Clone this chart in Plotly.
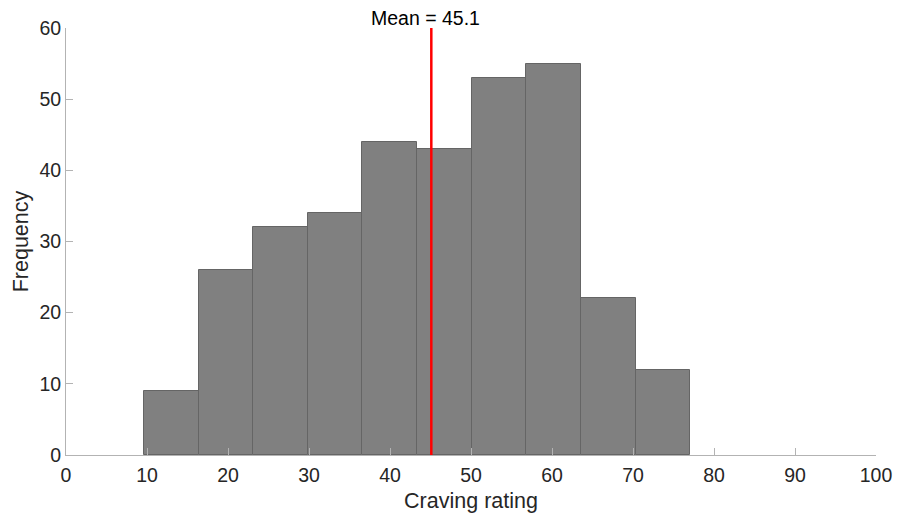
import plotly.graph_objects as go

# Histogram of craving ratings (bin edges and counts per bin)
bin_edges = [9.62, 16.36, 23.11, 29.85, 36.60, 43.34, 50.09, 56.83, 63.58, 70.32, 77.06]
counts = [9, 26, 32, 34, 44, 43, 53, 55, 22, 12]
mean_value = 45.1

x_ticks = [0, 10, 20, 30, 40, 50, 60, 70, 80, 90, 100]
y_ticks = [0, 10, 20, 30, 40, 50, 60]

centers = [(a + b) / 2 for a, b in zip(bin_edges[:-1], bin_edges[1:])]
widths = [b - a for a, b in zip(bin_edges[:-1], bin_edges[1:])]

font_family = "Liberation Sans, Arial, sans-serif"
axis_grey = "#b3b3b3"
text_grey = "#262626"

fig = go.Figure()
fig.add_trace(go.Bar(
    x=centers,
    y=counts,
    width=widths,
    marker=dict(color="#808080", line=dict(color="#656565", width=1)),
    hoverinfo="x+y",
    showlegend=False,
))

# Mean marker line
fig.add_shape(
    type="line", xref="x", yref="y",
    x0=mean_value, x1=mean_value, y0=0, y1=60,
    line=dict(color="#ff0000", width=2.5),
)
fig.add_annotation(
    x=mean_value, y=60, xref="x", yref="y",
    text=f"Mean = {mean_value}",
    showarrow=False, yanchor="bottom", xanchor="center", xshift=-6, yshift=-3,
    font=dict(family=font_family, size=19.5, color="#000000"),
)

axis_common = dict(
    showgrid=False, zeroline=False, showline=True,
    linecolor=axis_grey, linewidth=1,
    ticks="inside", ticklen=7, tickcolor=axis_grey, tickwidth=1,
    tickfont=dict(family=font_family, size=19.5, color=text_grey),
    title_font=dict(family=font_family, size=21.5, color=text_grey),
    automargin=False,
)

fig.update_xaxes(
    range=[0, 100], tickvals=x_ticks, title_text="Craving rating",
    title_standoff=7, ticklabelstandoff=3, **axis_common,
)
fig.update_yaxes(
    range=[0, 60], tickvals=y_ticks, title_text="Frequency",
    title_standoff=4, **axis_common,
)

fig.update_layout(
    width=897, height=516,
    margin=dict(l=66, r=21, t=28, b=61),
    plot_bgcolor="white", paper_bgcolor="white",
    bargap=0,
)

fig.write_html("out.html")
